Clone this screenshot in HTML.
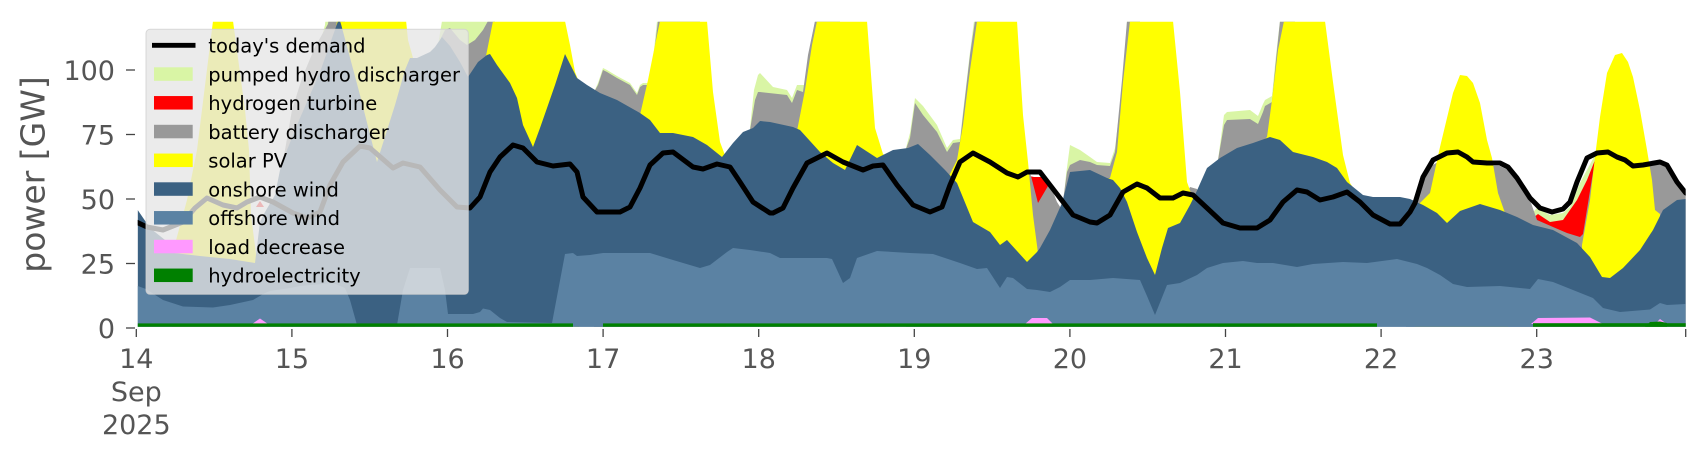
<!DOCTYPE html>
<html><head><meta charset="utf-8"><style>
html,body{margin:0;padding:0;background:#fff;}
svg{display:block;}
text{font-family:"DejaVu Sans","Liberation Sans",sans-serif;}
</style></head><body>
<svg width="1706" height="460" viewBox="0 0 1706 460" xmlns="http://www.w3.org/2000/svg">
<defs><clipPath id="pc"><rect x="137.7" y="21.7" width="1548" height="305"/></clipPath></defs>
<rect width="1706" height="460" fill="#fff"/>
<g clip-path="url(#pc)">
<!-- pumped hydro -->
<g fill="#d9f5a5">
<polygon points="300,125 315,60 325,25 327,0 340,0 340,327 300,327"/>
<polygon points="438,45 442,21 444,0 495,0 495,327 438,327"/>
<polygon points="594,92 598,83 603,68 607,70 617,76 630,83 637,93 640,85 643,83 650,83 653,60 657,21 659,0 700,0 700,327 594,327"/>
<polygon points="750,128 754,90 758,75 760,73 773,87 787,90 792,98 797,85 805,85 810,48 815,21 817,0 840,0 840,327 750,327"/>
<polygon points="906,148 910,133 915,98 923,106 937,125 947,148 953,140 960,139 963,112 970,52 974,21 976,0 990,0 990,327 906,327"/>
<polygon points="1063,205 1066,175 1070,145 1080,150 1090,157 1097,162 1110,163 1115,148 1123,82 1127,21 1130,0 1140,0 1140,327 1063,327"/>
<polygon points="1218,160 1224,115 1227,112 1250,110 1258,116 1263,104 1265,100 1272,96 1276,55 1280,21 1282,0 1295,0 1295,327 1218,327"/>
<polygon points="1533,212 1537,208 1550,215 1563,213 1570,207 1580,183 1595,155 1598,157 1600,200 1600,327 1533,327"/>
</g>
<!-- hydrogen -->
<g fill="#ff0000">
<polygon points="1029,176 1034,177 1046,177 1051,187 1053,192 1053,327 1029,327"/>
<polygon points="1533,218 1538,214 1550,222 1563,220 1577,200 1587,180 1595,160 1598,165 1600,200 1600,327 1533,327"/>
</g>
<!-- battery -->
<g fill="#999999">
<polygon points="281,168 285,150 292,110 302,78 315,47 328,24 331,0 345,0 345,327 281,327"/>
<polygon points="440,40 445,30 450,28 460,40 467,45 475,40 483,30 488,21 490,0 495,0 495,327 440,327"/>
<polygon points="594,92 598,85 603,70 607,72 617,78 630,85 637,95 640,87 643,85 650,85 653,62 658,21 660,0 700,0 700,327 594,327"/>
<polygon points="750,130 755,100 758,92 760,92 787,95 792,103 797,90 803,92 808,55 815,21 817,0 840,0 840,327 750,327"/>
<polygon points="906,149 910,138 915,103 923,115 937,132 947,152 953,143 960,142 963,115 970,55 975,21 977,0 990,0 990,327 906,327"/>
<polygon points="1024,200 1028,168 1031,176 1038,203 1048,186 1053,192 1057,202 1062,210 1064,212 1064,327 1024,327"/>
<polygon points="1062,208 1067,172 1070,165 1080,160 1090,162 1097,165 1110,166 1115,152 1122,80 1127,21 1130,0 1140,0 1140,327 1062,327"/>
<polygon points="1186,196 1190,187 1197,189 1200,196 1200,327 1186,327"/>
<polygon points="1218,160 1224,125 1227,120 1250,119 1258,124 1263,112 1265,106 1272,102 1276,60 1280,21 1282,0 1295,0 1295,327 1218,327"/>
<polygon points="1406,200 1413,205 1418,197 1423,180 1433,165 1447,156 1460,155 1473,165 1487,166 1500,166 1508,170 1517,181 1530,200 1537,220 1553,227 1567,233 1580,237 1583,234 1595,160 1598,162 1600,200 1600,327 1406,327"/>
<polygon points="1640,185 1645,168 1650,164 1660,163 1667,166 1677,183 1686,194 1686,327 1640,327"/>
</g>
<!-- solar -->
<g fill="#ffff00">
<polygon points="172,255 187,200 197,150 213,21 215,0 231,0 233,21 245,110 249,150 251,215 257,262 259,265 259,327 172,327"/>
<polygon points="336,30 339,0 404,0 408,40 413,58 415,62 415,327 336,327"/>
<polygon points="486,56 493,21 495,0 563,0 565,21 570,45 575,72 579,82 579,327 486,327"/>
<polygon points="640,115 648,80 655,45 660,21 662,0 705,0 707,21 713,92 720,142 726,158 726,327 640,327"/>
<polygon points="797,131 805,90 812,45 817,21 819,0 865,0 867,21 875,128 883,154 886,156 886,327 797,327"/>
<polygon points="948,178 957,160 963,125 970,70 977,21 979,0 1015,0 1017,21 1023,115 1028,162 1033,215 1038,253 1040,255 1040,327 948,327"/>
<polygon points="1106,179 1110,178 1117,152 1123,82 1130,21 1132,0 1171,0 1173,21 1180,92 1187,182 1192,196 1194,198 1194,327 1106,327"/>
<polygon points="1264,140 1267,137 1272,100 1278,50 1284,21 1286,0 1323,0 1325,21 1333,82 1343,155 1350,183 1352,186 1352,327 1264,327"/>
<polygon points="1415,205 1420,203 1430,193 1440,147 1453,93 1460,75 1467,76 1473,83 1480,103 1487,140 1492,158 1498,193 1505,213 1508,215 1508,327 1415,327"/>
<polygon points="1582,245 1590,200 1595,157 1600,117 1607,73 1615,55 1622,53 1628,62 1633,77 1640,110 1647,150 1652,180 1655,210 1660,214 1660,327 1582,327"/>
</g>
<!-- onshore wind -->
<polygon fill="#3b6182" points="137.7,327 137.7,210 150,228 165,240 174,253 200,256 230,259 255,263 260,222 265,212 275,195 280,170 287,150 300,118 320,72 337,24 339,18 341,24 360,95 377,162 395,105 405,70 410,58 417,58 430,52 435,47 442,37 450,46 460,62 468,77 478,62 487,55 490,54 497,65 510,83 517,98 523,125 533,147 540,128 547,108 555,85 565,54 577,78 587,85 600,93 617,100 640,113 650,120 660,133 673,133 693,137 707,145 722,157 733,143 743,132 753,128 760,121 770,122 793,127 800,130 820,152 833,163 845,170 857,145 877,158 893,150 908,148 918,144 930,155 945,170 957,183 973,222 990,232 1000,245 1007,240 1027,262 1037,252 1040,248 1050,230 1062,203 1070,172 1090,170 1107,178 1113,180 1120,188 1127,202 1137,232 1147,258 1155,275 1162,248 1168,228 1180,223 1190,205 1195,195 1207,168 1220,158 1237,148 1253,143 1270,137 1280,140 1293,152 1313,157 1327,162 1337,168 1347,182 1363,195 1373,197 1400,197 1410,199 1423,205 1437,213 1447,223 1460,211 1480,204 1500,210 1517,217 1533,225 1553,230 1577,243 1590,257 1602,277 1610,278 1623,268 1640,250 1653,230 1663,210 1677,200 1685.7,199 1685.7,327"/>
<!-- offshore wind -->
<polygon fill="#5b82a3" points="137.7,327 137.7,286 146,289 163,300 183,306.5 213,307.5 230,305 253,300 265,293 270,291 290,288 300,286 333,283 345,288 350,300 357,325 397,325 403,290 410,268 440,268 445,290 448,314 473,314 480,312 483,308.5 490,310 500,318 507,322 552,323 565,254 573,253 577,256 590,255 603,253 650,253 673,260 700,268 710,265 727,252 733,248 750,250 770,253 780,258 827,258 832,259 843,283 850,278 857,258 877,251 910,253 933,254 960,263 977,269 987,268 1000,288 1007,277 1013,278 1027,289 1037,290 1050,292 1060,287 1070,280 1090,280 1113,278 1140,280 1147,296 1155,315 1167,285 1180,283 1197,275 1207,268 1223,263 1243,261 1257,263 1273,263 1297,267 1313,264 1343,262 1367,263 1397,259 1417,264 1427,268 1440,275 1453,284 1467,287 1500,286 1530,289 1538,279 1553,282 1593,298 1603,308 1620,312 1650,309.5 1660,303 1667,305 1685.7,304 1685.7,327"/>
<!-- small hydrogen mark -->
<polygon fill="#ff0000" points="256,207 260,201 264,207"/>
<!-- load decrease -->
<g fill="#ff99ff">
<polygon points="252,324 260,318.5 268,324"/>
<polygon points="1025,324 1032,318 1047,318 1053,324"/>
<polygon points="1531,324 1538,318 1590,317.5 1603,324"/>
<polygon points="1655,324 1660,319 1667,324"/>
</g>
<!-- hydro -->
<g fill="#008000">
<rect x="137.7" y="323.4" width="435.3" height="4"/>
<rect x="603" y="323.4" width="774" height="4"/>
<rect x="1533" y="323.2" width="153" height="4"/>
<polygon points="1645,327 1650,322 1660,321.5 1667,323 1667,327"/>
</g>
<!-- demand -->
<polyline fill="none" stroke="#000" stroke-width="5" stroke-linejoin="round" stroke-linecap="round" points="136.3,222 147,227 163,230 183,222 195,208 207,198 223,205 237,208 247,202 260,197 273,202 293,213 307,218 320,212 330,185 343,162 360,146 370,148 393,168 403,163 420,167 440,190 457,207 470,208 480,197 490,172 500,157 513,145 523,148 537,162 553,166 570,164 577,172 583,197 597,212 620,212 630,207 640,188 650,165 663,153 673,152 693,167 703,169 717,164 730,167 740,182 753,202 770,213 773,213 783,208 793,188 807,163 827,153 843,162 863,170 873,166 883,165 897,185 913,205 930,212 942,207 950,185 960,162 973,153 990,162 1007,173 1018,177 1027,172 1040,172 1050,185 1060,198 1073,215 1090,222 1097,223 1110,215 1123,192 1137,184 1147,188 1160,198 1173,198 1183,193 1193,195 1207,208 1223,223 1240,228 1257,228 1270,220 1283,202 1297,190 1307,192 1320,200 1333,197 1347,192 1360,202 1373,215 1390,224 1400,224 1410,212 1415,203 1423,177 1433,160 1447,153 1458,152 1467,157 1473,162 1487,163 1500,163 1508,167 1517,178 1530,198 1540,208 1552,212 1563,209 1570,202 1577,182 1587,158 1597,153 1608,152 1617,157 1625,160 1633,166 1643,165 1660,162 1667,165 1677,182 1685.7,193"/>
</g>
<!-- axes ticks -->
<g stroke="#444" stroke-width="1.3">
<line x1="126" y1="328" x2="135" y2="328"/>
<line x1="126" y1="263.5" x2="135" y2="263.5"/>
<line x1="126" y1="199" x2="135" y2="199"/>
<line x1="126" y1="134.5" x2="135" y2="134.5"/>
<line x1="126" y1="70" x2="135" y2="70"/>
<line x1="136.3" y1="329" x2="136.3" y2="337"/>
<line x1="291.9" y1="329" x2="291.9" y2="337"/>
<line x1="447.5" y1="329" x2="447.5" y2="337"/>
<line x1="603.1" y1="329" x2="603.1" y2="337"/>
<line x1="758.7" y1="329" x2="758.7" y2="337"/>
<line x1="914.3" y1="329" x2="914.3" y2="337"/>
<line x1="1069.9" y1="329" x2="1069.9" y2="337"/>
<line x1="1225.5" y1="329" x2="1225.5" y2="337"/>
<line x1="1381.1" y1="329" x2="1381.1" y2="337"/>
<line x1="1536.7" y1="329" x2="1536.7" y2="337"/>
<line x1="1685.7" y1="329" x2="1685.7" y2="337"/>
</g>
<g fill="#555" font-size="27" text-anchor="end">
<text x="115" y="338">0</text>
<text x="115" y="273.5">25</text>
<text x="115" y="209">50</text>
<text x="115" y="144.5">75</text>
<text x="115" y="80">100</text>
</g>
<g fill="#555" font-size="27" text-anchor="middle">
<text x="136.3" y="368">14</text>
<text x="136.3" y="401">Sep</text>
<text x="136.3" y="434">2025</text>
<text x="291.9" y="368">15</text>
<text x="447.5" y="368">16</text>
<text x="603.1" y="368">17</text>
<text x="758.7" y="368">18</text>
<text x="914.3" y="368">19</text>
<text x="1069.9" y="368">20</text>
<text x="1225.5" y="368">21</text>
<text x="1381.1" y="368">22</text>
<text x="1536.7" y="368">23</text>
</g>
<text transform="translate(44.4,174.5) rotate(-90)" fill="#555" font-size="33" text-anchor="middle">power [GW]</text>
<!-- legend -->
<rect x="146" y="29.3" width="322.3" height="265" rx="4" ry="4" fill="#e6e6e6" fill-opacity="0.8" stroke="#d0d0d0" stroke-opacity="0.8" stroke-width="1"/>
<line x1="152" y1="45.3" x2="195.5" y2="45.3" stroke="#000" stroke-width="4.8"/>
<rect x="154" y="67.3" width="38.7" height="13.5" fill="#d9f5a5"/>
<rect x="154" y="96.05" width="38.7" height="13.5" fill="#ff0000"/>
<rect x="154" y="124.8" width="38.7" height="13.5" fill="#999999"/>
<rect x="154" y="153.55" width="38.7" height="13.5" fill="#ffff00"/>
<rect x="154" y="182.3" width="38.7" height="13.5" fill="#3b6182"/>
<rect x="154" y="211.05" width="38.7" height="13.5" fill="#5b82a3"/>
<rect x="154" y="239.8" width="38.7" height="13.5" fill="#ff99ff"/>
<rect x="154" y="268.55" width="38.7" height="13.5" fill="#008000"/>
<g fill="#000" font-size="19.5">
<text x="208.3" y="52.5">today's demand</text>
<text x="208.3" y="81.25">pumped hydro discharger</text>
<text x="208.3" y="110">hydrogen turbine</text>
<text x="208.3" y="138.75">battery discharger</text>
<text x="208.3" y="167.5">solar PV</text>
<text x="208.3" y="196.25">onshore wind</text>
<text x="208.3" y="225">offshore wind</text>
<text x="208.3" y="253.75">load decrease</text>
<text x="208.3" y="282.5">hydroelectricity</text>
</g>
</svg>
</body></html>
